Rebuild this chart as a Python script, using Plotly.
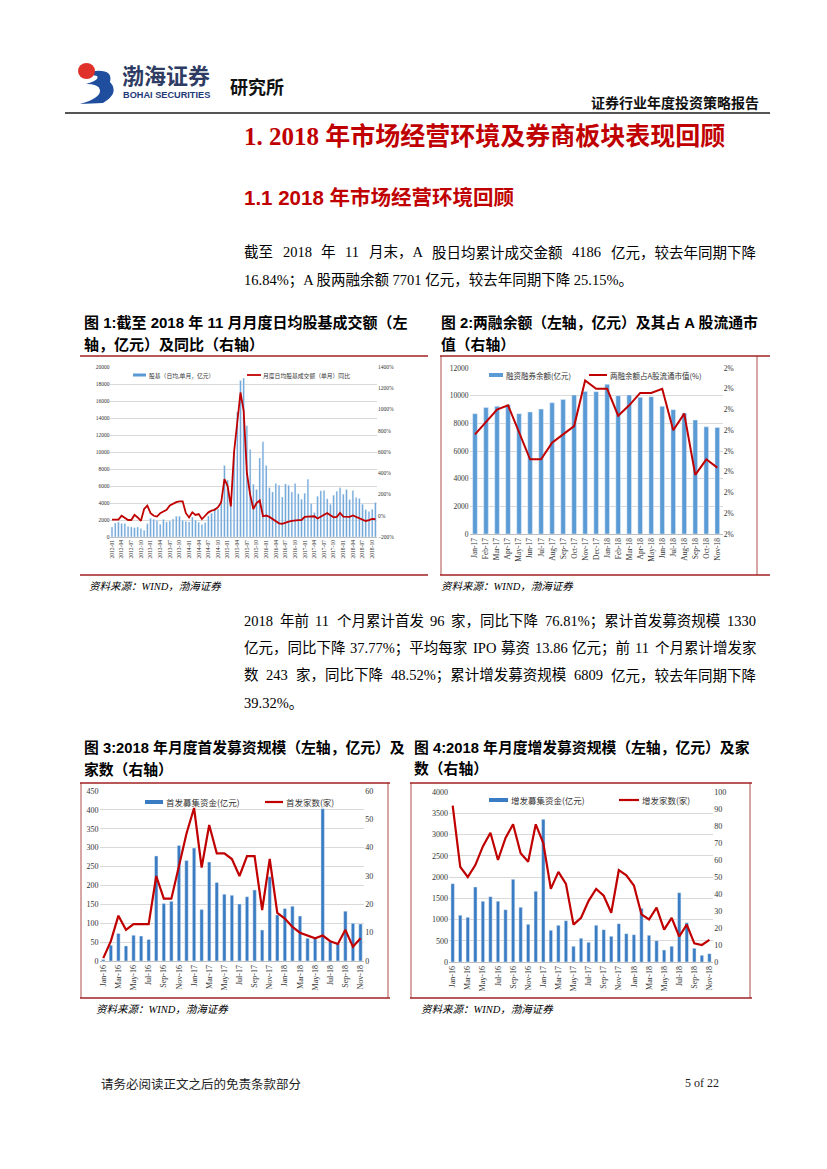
import plotly.graph_objects as go

# The page body has an 8px default margin: the figure is shifted accordingly.
OFF = 8
W, H = 811, 1150
def X(p): return (p - OFF) / W
def Y(p): return 1 - (p - OFF) / H

# ---------------- data ----------------
# Chart 1: monthly daily-average stock+fund turnover (100m yuan) and YoY (%)
c1_months = [f"{yy}-{mm:02d}" for yy in range(2012, 2019) for mm in range(1, 13)][:83]
c1_ticks = c1_months[::3]
c1_turnover = [1180, 1650, 1770, 1600, 1600, 1250, 1180, 1100, 1180, 1000, 790, 1570,
               2200, 2090, 1930, 1500, 2050, 1770, 1890, 2130, 2440, 2440, 1970, 1810,
               1770, 2360, 2000, 1730, 1460, 1690, 2480, 2800, 3400, 3300, 4200, 8400,
               6700, 4100, 10000, 14700, 18400, 18700, 13100, 10300, 6200, 5600, 9300, 11200,
               8400, 5800, 5300, 6300, 6100, 4700, 6250, 6100, 5300, 6300, 5100, 4450,
               5150, 6800, 3940, 2870, 4800, 5430, 5470, 4490, 3860, 4920, 5390, 5790,
               5040, 5590, 4410, 5470, 4650, 4530, 3860, 3230, 2990, 3270, 4060]
c1_yoy = [-36, -36, -36, 0, -16, -40, -40, 8, -16, -48,
          64, 96, 24, 0, -8, 24, 40, 56, 96, 112,
          128, 136, 136, 24, -16, 32, 8, 16, -32, 0,
          32, 48, 56, 80, 128, 344, 280, 88, 600, 880,
          1160, 984, 400, 200, 64, 120, 144,
          -5, 2, -11, -33, -49, -71, -77, -65, -55, -49,
          -49, -42, -40, -11, -8, -8, -5, -26, -11, 8,
          26, 5, -14, -11, 26, -8, -8, -11, 2, -11,
          -21, -36, -49, -42, -30, -33]

# Chart 2: margin balance (100m yuan) and share of A-share float cap (%)
c2_months = ["Jan-17", "Feb-17", "Mar-17", "Apr-17", "May-17", "Jun-17", "Jul-17", "Aug-17",
             "Sep-17", "Oct-17", "Nov-17", "Dec-17", "Jan-18", "Feb-18", "Mar-18", "Apr-18",
             "May-18", "Jun-18", "Jul-18", "Aug-18", "Sep-18", "Oct-18", "Nov-18"]
c2_balance = [8700, 9150, 9230, 9350, 8700, 8820, 9030, 9490, 9730, 10050, 10310, 10290,
              10820, 10000, 10050, 9880, 9930, 9230, 8990, 8740, 8240, 7750, 7701]
c2_ratio = [2.08, 2.14, 2.20, 2.22, 2.09, 1.96, 1.96, 2.04, 2.08, 2.12, 2.34, 2.30,
            2.30, 2.17, 2.22, 2.28, 2.28, 2.30, 2.10, 2.18, 1.885, 1.96, 1.92]

# Charts 3 & 4: monthly Jan-16 .. Nov-18
c34_months = ["Jan-16", "Feb-16", "Mar-16", "Apr-16", "May-16", "Jun-16", "Jul-16", "Aug-16",
              "Sep-16", "Oct-16", "Nov-16", "Dec-16", "Jan-17", "Feb-17", "Mar-17", "Apr-17",
              "May-17", "Jun-17", "Jul-17", "Aug-17", "Sep-17", "Oct-17", "Nov-17", "Dec-17",
              "Jan-18", "Feb-18", "Mar-18", "Apr-18", "May-18", "Jun-18", "Jul-18", "Aug-18",
              "Sep-18", "Oct-18", "Nov-18"]
c34_ticks = c34_months[::2]
c3_ipo_amt = [4, 42, 73, 40, 68, 66, 57, 278, 152, 158, 306, 266, 299, 136, 262, 208, 177,
              174, 151, 170, 188, 82, 223, 122, 139, 145, 119, 60, 60, 403, 51, 47, 132, 100, 98]
c3_ipo_cnt = [1, 7, 16, 11, 13, 13, 13, 30, 22, 22, 34, 45, 54, 33, 48, 38, 38, 36, 30, 37,
              37, 18, 36, 17, 15, 12, 10, 9, 8, 9, 7, 6, 11, 5, 8]
c4_seo_amt = [1843, 1098, 1051, 1765, 1427, 1537, 1427, 1231, 1945, 1286, 886, 1663, 3357,
              745, 863, 973, 369, 557, 463, 863, 761, 604, 902, 667, 643, 1263, 627, 502,
              282, 369, 1631, 925, 322, 157, 196]
c4_seo_cnt = [92, 56, 50, 57, 68, 76, 60, 73, 81, 64, 59, 81, 70, 43, 53, 46, 22, 26, 36,
              43, 39, 29, 54, 51, 45, 28, 25, 32, 19, 26, 15, 22, 11, 10, 13]

# ---------------- styles ----------------
BAR_LIGHT = "#5B9BD5"
BAR_DARK = "#3A7CC3"
RED = "#C00000"
FRAME = "#A02020"
GRID = "#D9D9D9"
SERIF = "Liberation Serif, Noto Sans CJK SC"
CJK = "Noto Sans CJK SC"
BODY = "Liberation Serif, Noto Sans CJK SC"
CAP = "Liberation Sans Narrow, Liberation Sans, Noto Sans CJK SC"

fig = go.Figure()

# chart 1
fig.add_trace(go.Bar(x=c1_months, y=c1_turnover, marker_color=BAR_LIGHT, width=0.5,
                     xaxis="x", yaxis="y", showlegend=False))
fig.add_trace(go.Scatter(x=c1_months, y=c1_yoy, mode="lines", line=dict(color=RED, width=1.8),
                         xaxis="x", yaxis="y2", showlegend=False))
# chart 2
fig.add_trace(go.Bar(x=c2_months, y=c2_balance, marker_color=BAR_LIGHT, width=0.42,
                     xaxis="x2", yaxis="y3", showlegend=False))
fig.add_trace(go.Scatter(x=c2_months, y=c2_ratio, mode="lines", line=dict(color=RED, width=2),
                         xaxis="x2", yaxis="y4", showlegend=False))
# chart 3
fig.add_trace(go.Bar(x=c34_months, y=c3_ipo_amt, marker_color=BAR_DARK, width=0.45,
                     xaxis="x3", yaxis="y5", showlegend=False))
fig.add_trace(go.Scatter(x=c34_months, y=c3_ipo_cnt, mode="lines", line=dict(color=RED, width=2.2),
                         xaxis="x3", yaxis="y6", showlegend=False))
# chart 4
fig.add_trace(go.Bar(x=c34_months, y=c4_seo_amt, marker_color=BAR_DARK, width=0.45,
                     xaxis="x4", yaxis="y7", showlegend=False))
fig.add_trace(go.Scatter(x=c34_months, y=c4_seo_cnt, mode="lines", line=dict(color=RED, width=2.2),
                         xaxis="x4", yaxis="y8", showlegend=False))


def xax(dom, anchor, ticks, fsize):
    return dict(domain=[X(dom[0]), X(dom[1])], anchor=anchor, type="category",
                tickmode="array", tickvals=ticks, ticktext=ticks, tickangle=-90,
                tickfont=dict(family=SERIF, size=fsize, color="#333"),
                showgrid=False, showline=True, linecolor="#BFBFBF", linewidth=0.8,
                ticks="", zeroline=False, automargin=False, fixedrange=True)


def yax(dom, anchor, rng, dtick, fsize, fmt="d", suffix=""):
    return dict(domain=[Y(dom[0]), Y(dom[1])], anchor=anchor, range=rng, dtick=dtick,
                tick0=rng[0], tickformat=fmt, ticksuffix=suffix,
                tickfont=dict(family=SERIF, size=fsize, color="#333"),
                showgrid=True, gridcolor=GRID, gridwidth=0.8, zeroline=False,
                showline=False, ticks="", automargin=False, fixedrange=True)


def y2ax(over, anchor, rng, dtick, fsize, fmt="d", suffix=""):
    return dict(overlaying=over, anchor=anchor, side="right", range=rng, dtick=dtick,
                tick0=rng[0], tickformat=fmt, ticksuffix=suffix,
                tickfont=dict(family=SERIF, size=fsize, color="#333"),
                showgrid=False, zeroline=False, showline=False, ticks="",
                automargin=False, fixedrange=True)


layout = dict(
    width=W, height=H, margin=dict(l=0, r=0, t=0, b=0),
    paper_bgcolor="white", plot_bgcolor="rgba(0,0,0,0)",
    xaxis=xax((110.4, 377), "y", c1_ticks, 5.5),
    yaxis=yax((537, 367), "x", [0, 20000], 2000, 5.5),
    yaxis2=y2ax("y", "x", [-200, 1400], 200, 5.5, suffix="%"),
    xaxis2=xax((469.5, 722.8), "y3", c2_months, 7.5),
    yaxis3=yax((534, 368), "x2", [0, 12000], 2000, 7.5),
    yaxis4=y2ax("y3", "x2", [1.6, 2.4], 0.1, 7.5, fmt=".0f", suffix="%"),
    xaxis3=xax((99.5, 364.3), "y5", c34_ticks, 8),
    yaxis5=yax((961, 791), "x3", [0, 450], 50, 8),
    yaxis6=y2ax("y5", "x3", [0, 60], 10, 8),
    xaxis4=xax((448.9, 713.2), "y7", c34_ticks, 8),
    yaxis7=yax((962, 792), "x4", [0, 4000], 500, 8),
    yaxis8=y2ax("y7", "x4", [0, 100], 10, 8),
)
fig.update_layout(**layout)

shapes = []
annots = []


def hline(x0, x1, y, color, width):
    shapes.append(dict(type="line", xref="paper", yref="paper", x0=X(x0), x1=X(x1),
                       y0=Y(y), y1=Y(y), line=dict(color=color, width=width)))


def vline(x, y0, y1, color, width):
    shapes.append(dict(type="line", xref="paper", yref="paper", x0=X(x), x1=X(x),
                       y0=Y(y0), y1=Y(y1), line=dict(color=color, width=width)))


def rect(x0, y0, x1, y1, color):
    shapes.append(dict(type="rect", xref="paper", yref="paper", x0=X(x0), x1=X(x1),
                       y0=Y(y0), y1=Y(y1), fillcolor=color, line=dict(width=0)))


def text(x, y, s, size, family=BODY, color="black", anchor="left", bold=False, italic=False):
    if bold:
        s = f"<b>{s}</b>"
    if italic:
        s = f"<i>{s}</i>"
    annots.append(dict(x=X(x), y=Y(y), xref="paper", yref="paper", text=s, showarrow=False,
                       xanchor=anchor, yanchor="middle", borderpad=0,
                       font=dict(size=size, family=family, color=color)))


def path(cmds):
    parts = []
    for c in cmds:
        op, nums = c[0], c[1:]
        pts = [f"{X(nums[i]):.5f},{Y(nums[i+1]):.5f}" for i in range(0, len(nums), 2)]
        parts.append(op + " " + " ".join(pts))
    return " ".join(parts)


def cwidth(ch):
    if ord(ch) > 0x2E80:
        return 1.0
    if ch.isdigit():
        return 0.5
    return {".": 0.25, "%": 0.833, ";": 0.278, ",": 0.25, "A": 0.722, "I": 0.333,
            "P": 0.556, "O": 0.722}.get(ch, 0.5)


def justify(line, x0, x1, y, size):
    toks = line.split(" ")
    widths = [sum(cwidth(c) for c in t) * size for t in toks]
    gap = (x1 - x0 - sum(widths)) / (len(toks) - 1)
    x = x0
    for t, w in zip(toks, widths):
        text(x, y, t, size)
        x += w + gap


# ---------------- header ----------------
shapes.append(dict(type="path", xref="paper", yref="paper",
                   path=path([("M", 83, 73), ("Q", 114, 66, 110, 82), ("Q", 120, 93, 103, 103),
                              ("L", 80, 104), ("Q", 101, 98, 100, 90), ("Q", 99, 84, 86, 84),
                              ("Q", 100, 80, 97, 76), ("Z",)]),
                   fillcolor="#1F4E9E", line=dict(width=0)))
shapes.append(dict(type="circle", xref="paper", yref="paper", x0=X(78), x1=X(95),
                   y0=Y(79), y1=Y(63), fillcolor="#E0302A", line=dict(width=0)))
text(121, 74, "渤海证券", 22, family=CJK, color="#2E3B62", bold=True)
text(122, 95, "BOHAI SECURITIES", 9.2, family="Liberation Sans", color="#1F3A78", bold=True)
text(229, 86, "研究所", 18, family=CJK, color="#111", bold=True)
text(760, 102, "证券行业年度投资策略报告", 14, family=CJK, color="#111", anchor="right", bold=True)
hline(65, 770, 113, "#555555", 2)

# ---------------- titles & paragraphs ----------------
text(243, 137, "1. 2018 年市场经营环境及券商板块表现回顾", 25, family=SERIF, color=RED, bold=True)
text(243, 198, "1.1 2018 年市场经营环境回顾", 20.5, family="Liberation Sans, Noto Sans CJK SC",
     color=RED, bold=True)

justify("截至 2018 年 11 月末，A 股日均累计成交金额 4186 亿元，较去年同期下降", 243, 755, 252, 14.5)
text(243, 280, "16.84%；A 股两融余额 7701 亿元，较去年同期下降 25.15%。", 14.5)

justify("2018 年前 11 个月累计首发 96 家，同比下降 76.81%；累计首发募资规模 1330", 243, 755, 621, 14.5)
justify("亿元，同比下降 37.77%；平均每家 IPO 募资 13.86 亿元；前 11 个月累计增发家", 243, 755, 648, 14.5)
justify("数 243 家，同比下降 48.52%；累计增发募资规模 6809 亿元，较去年同期下降", 243, 755, 675, 14.5)
text(243, 703, "39.32%。", 14.5)

# ---------------- figure captions ----------------
text(83, 323, "图 1:截至 2018 年 11 月月度日均股基成交额（左", 15, family=CAP, bold=True)
text(83, 345, "轴，亿元）及同比（右轴）", 15, family=CAP, bold=True)
text(440, 323, "图 2:两融余额（左轴，亿元）及其占 A 股流通市", 14.8, family=CAP, bold=True)
text(440, 345, "值（右轴）", 14.8, family=CAP, bold=True)
text(83, 747, "图 3:2018 年月度首发募资规模（左轴，亿元）及", 14.8, family=CAP, bold=True)
text(83, 769, "家数（右轴）", 14.8, family=CAP, bold=True)
text(413, 747, "图 4:2018 年月度增发募资规模（左轴，亿元）及家", 14.8, family=CAP, bold=True)
text(413, 769, "数（右轴）", 14.8, family=CAP, bold=True)

# frames
hline(80, 428, 356, FRAME, 1.5)
hline(80, 428, 575, FRAME, 1.5)
hline(440, 770, 356, FRAME, 1.5)
hline(440, 770, 575, FRAME, 1.5)
vline(441, 356, 575, FRAME, 0.8)
vline(757, 356, 575, FRAME, 0.8)
hline(80, 390, 783, FRAME, 1.5)
hline(80, 390, 998, FRAME, 1.5)
vline(81, 783, 998, FRAME, 0.8)
vline(388, 783, 998, FRAME, 0.8)
hline(410, 752, 783, FRAME, 1.5)
hline(410, 752, 998, FRAME, 1.5)
vline(411, 783, 998, FRAME, 0.8)
vline(750, 783, 998, FRAME, 0.8)

# sources
text(88, 586, "资料来源：WIND，渤海证券", 10.5, italic=True)
text(440, 586, "资料来源：WIND，渤海证券", 10.5, italic=True)
text(95, 1009, "资料来源：WIND，渤海证券", 10.5, italic=True)
text(420, 1009, "资料来源：WIND，渤海证券", 10.5, italic=True)

# ---------------- legends ----------------
rect(133, 373.5, 146, 376.5, BAR_LIGHT)
text(148, 375, "股基（日均,单月，亿元）", 5.8, family=CJK, color="#333")
hline(247, 261, 375, RED, 1.8)
text(262, 375, "月度日均股基成交额（单月）同比", 5.8, family=CJK, color="#333")

rect(489, 373, 503, 377, BAR_LIGHT)
text(505, 375, "融资融券余额(亿元)", 7.5, family=CJK, color="#333")
hline(589, 607, 375, RED, 2)
text(609, 375, "两融余额占A股流通市值(%)", 7.5, family=CJK, color="#333")

rect(145, 800, 163, 804, BAR_DARK)
text(165, 802, "首发募集资金(亿元)", 8.5, family=CJK, color="#333")
hline(265, 283, 802, RED, 2.2)
text(285, 802, "首发家数(家)", 8.5, family=CJK, color="#333")

rect(489, 798, 508, 802, BAR_DARK)
text(510, 800, "增发募集资金(亿元)", 8.5, family=CJK, color="#333")
hline(619, 639, 800, RED, 2.2)
text(641, 800, "增发家数(家)", 8.5, family=CJK, color="#333")

# ---------------- footer ----------------
text(100, 1083, "请务必阅读正文之后的免责条款部分", 12.5, family=CJK, color="#222")
text(720, 1083, "5 of 22", 12, family="Liberation Serif", color="#222", anchor="right")

fig.update_layout(shapes=shapes, annotations=annots)
fig.write_html("out.html")
